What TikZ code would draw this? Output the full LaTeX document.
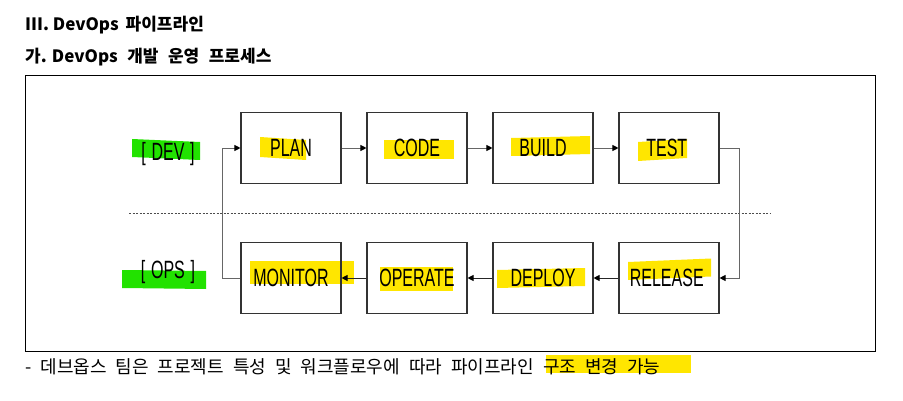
\documentclass[tikz,border=0pt]{standalone}
\usepackage{fontspec}
\usepackage{graphicx}
\setmainfont{Noto Sans CJK KR}
\newfontfamily\labelfont{Liberation Sans}
\usetikzlibrary{arrows.meta, positioning}
\definecolor{hlyellow}{RGB}{255,230,0}
\definecolor{hlgreen}{RGB}{34,226,0}
\newcommand{\narrow}[1]{\scalebox{0.64}[1]{\labelfont #1}}
\newcommand{\gap}{\hspace{7pt}}
\newcommand{\hgap}{\hspace{9.5pt}}
\newcommand{\wgap}{\hspace{9pt}}

\begin{document}
\begin{tikzpicture}[x=1pt, y=-1pt,
		stage/.style={draw=black!80, line width=1.1pt, minimum width=100pt, minimum height=71pt, inner sep=0pt, font=\fontsize{25}{25}\selectfont},
		flow/.style={draw=black!60, line width=0.9pt, -{Triangle[length=6pt, width=6pt, black]}},
		title/.style={anchor=base west, inner sep=0pt, font=\fontsize{17}{17}\selectfont\bfseries},
		note/.style={anchor=base west, inner sep=0pt, font=\fontsize{18}{18}\selectfont}]
	\useasboundingbox (0,0) rectangle (903,401);
	% highlighter marks
	\foreach \xa/\ya/\xb/\yb/\t in {
		260/137/306/157/-3,
		384/140/454/159/0,
		511/138/590/156/2,
		638/142/687/161/3,
		628/262/711/280/3.5,
		497/270/585/288/2,
		380/267/453/291/0,
		250/261/354/284/0,
		546/355/691/373/0
	}{
		\fill[hlyellow] (\xa,\ya) -- (\xb,\ya-\t) -- (\xb,\yb-\t) -- (\xa,\yb) -- cycle;
	}
	\foreach \xa/\ya/\xb/\yb/\t in {
		132/139/200/157/-3,
		122/270/206/288/-1
	}{
		\fill[hlgreen] (\xa,\ya) -- (\xb,\ya-\t) -- (\xb,\yb-\t) -- (\xa,\yb) -- cycle;
	}
	% headings
	\node[title] (head1) at (25,31) {III. DevOps\gap 파이프라인};
	\node[title] (head2) at (25,63) {가. DevOps\hgap 개발\hgap 운영\hgap 프로세스};
	\node[draw=black, line width=0.9pt, minimum width=850pt, minimum height=276pt, inner sep=0pt] (frame) at (450.5,213.5) {};
	% stages
	\foreach \x/\alph/\name in {
		291/plan/PLAN,
		417/code/CODE,
		543/build/BUILD,
		669/test/TEST
	}{
		\node[stage] (\alph) at (\x,148) {\raisebox{-2pt}{\narrow{\name}}};
	}
	\foreach \x/\alph/\name in {
		291/monitor/MONITOR,
		417/operate/OPERATE,
		543/deploy/DEPLOY,
		669/release/RELEASE
	}{
		\node[stage] (\alph) at (\x,278) {\narrow{\name}};
	}
	\node[font=\fontsize{25}{25}\selectfont] (dev) at (168,154) {\narrow{[\hspace{9pt}DEV\hspace{9pt}]}};
	\node[font=\fontsize{25}{25}\selectfont] (ops) at (168,272) {\narrow{[\hspace{9pt}OPS\hspace{9pt}]}};
	\coordinate (splitL) at (129,213);
	\coordinate (splitR) at (771,213);
	\draw[black!70, line width=0.7pt, dash pattern=on 2pt off 1.5pt] (splitL) -- (splitR);
	\foreach \a/\b in {plan/code, code/build, build/test}
		{\draw[flow] (\a.east) -- (\b.west);}
	\foreach \a/\b in {release/deploy, deploy/operate, operate/monitor}
		{\draw[flow, draw=black!85] (\a.west) -- (\b.east);}
	\draw[flow] (test.east) -- ++(20,0) |- (release.east);
	\draw[flow] (monitor.west) -- ++(-18,0) |- (plan.west);
	\node[note] (remark) at (25,373) {-\wgap 데브옵스\wgap 팀은\wgap 프로젝트\wgap 특성\wgap 및\wgap 워크플로우에\wgap 따라\wgap 파이프라인\wgap 구조\wgap 변경\wgap 가능};
\end{tikzpicture}
\end{document}
